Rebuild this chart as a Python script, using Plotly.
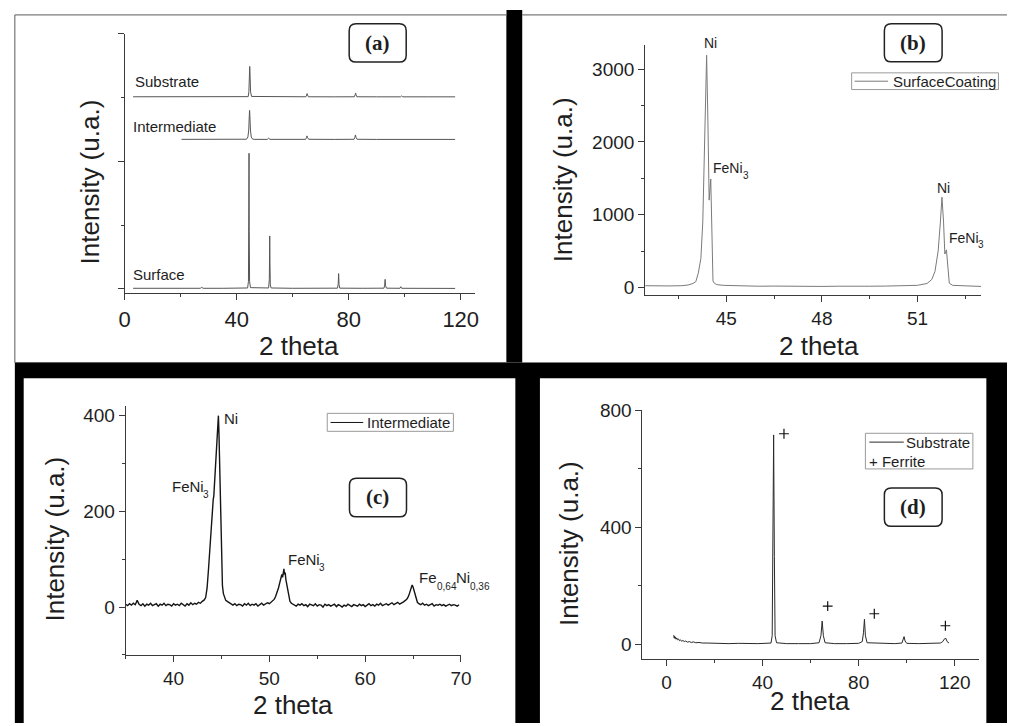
import plotly.graph_objects as go

W, H = 1018, 726


def px(x):
    return x / W


def py(y):
    return 1 - y / H


# ---------------- Panel (a): stacked patterns ----------------
a_surface_x = [3, 10, 20, 27.0, 27.5, 28.0, 35, 43.9, 44.2, 44.32, 44.4, 44.48, 44.6, 44.9, 50,
               51.4, 51.65, 51.72, 51.8, 51.88, 52.0, 52.3, 60, 70, 76.0, 76.25, 76.4, 76.55, 76.8,
               85, 92.6, 92.85, 93.0, 93.15, 93.5, 98.3, 98.6, 98.9, 105, 118]
a_surface_y = [10, 8, 10, 10, 25, 10, 10, 15, 120, 900, 2125, 900, 120, 20, 12,
               15, 150, 500, 830, 400, 60, 15, 10, 10, 12, 80, 240, 70, 12,
               10, 12, 60, 150, 50, 12, 10, 35, 10, 8, 8]

a_inter_x = [20.3, 30, 40, 43.5, 44.0, 44.3, 44.5, 44.6, 44.7, 44.9, 45.2, 45.6, 46.2, 50.9, 51.4,
             51.9, 58, 64.6, 64.9, 65.1, 65.3, 65.7, 75, 81.9, 82.2, 82.4, 82.6, 83.0, 90, 98.5,
             98.9, 99.3, 108, 116.0, 116.5, 117.0, 118]
a_inter_y = [3, 2, 3, 5, 40, 150, 380, 457, 380, 150, 40, 10, 3, 2, 20,
             3, 2, 3, 30, 57, 30, 4, 2, 4, 35, 72, 35, 4, 2, 2,
             10, 2, 2, 2, 8, 2, 2]

a_sub_x = [3, 15, 30, 44.1, 44.35, 44.5, 44.65, 44.8, 44.95, 45.3, 55, 64.7, 65.0, 65.15, 65.3,
           65.6, 75, 82.0, 82.3, 82.45, 82.6, 82.9, 90, 98.5, 98.9, 99.3, 108, 116.0, 116.5,
           117.0, 118]
a_sub_y = [3, 2, 3, 5, 80, 300, 478, 300, 80, 8, 2, 3, 30, 52, 30,
           3, 2, 3, 35, 62, 35, 3, 2, 2, 16, 2, 2, 2, 10, 2, 2]

a_offsets = [0, 2340, 3007]          # Surface, Intermediate, Substrate
a_names = ["Surface", "Intermediate", "Substrate"]

# ---------------- Panel (b): surface coating ----------------
b_x = [42.45, 42.8, 43.2, 43.6, 43.8, 43.95, 44.04, 44.12, 44.2, 44.26, 44.3, 44.34, 44.38,
       44.42, 44.46, 44.51, 44.55, 44.58, 44.62, 44.7, 44.9, 45.5, 46.0, 46.5, 47.0, 47.5,
       48.0, 48.5, 49.0, 49.5, 50.0, 50.5, 51.0, 51.3, 51.45, 51.55, 51.65, 51.72, 51.77,
       51.82, 51.86, 51.91, 51.95, 52.0, 52.1, 52.5, 53.0]
b_y = [25, 20, 22, 25, 35, 55, 80, 200, 400, 900, 1560, 2300, 3190,
       2300, 1200, 1490, 800, 90, 60, 40, 30, 22, 18, 20, 16, 20,
       15, 18, 14, 18, 20, 22, 30, 55, 110, 220, 500, 900, 1240,
       900, 460, 517, 350, 60, 30, 20, 15]

# ---------------- Panel (c): intermediate layer ----------------
c_x = [35.0, 35.2, 35.4, 35.6, 35.8, 36.0, 36.2, 36.4, 36.6, 36.8, 37.0, 37.2, 37.4, 37.6, 37.8,
       38.0, 38.2, 38.4, 38.6, 38.8, 39.0, 39.2, 39.4, 39.6, 39.8, 40.0, 40.2, 40.4, 40.6, 40.8,
       41.0, 41.2, 41.4, 41.6, 41.8, 42.0, 42.2, 42.4, 42.6, 42.8, 43.0, 43.2,
       43.35, 43.5, 43.65, 43.8, 43.9, 44.0, 44.08, 44.14, 44.2, 44.3, 44.4, 44.5, 44.6, 44.68,
       44.74, 44.8, 44.87, 44.93, 45.0, 45.1, 45.2, 45.3, 45.45, 45.6, 45.8, 46.0,
       46.2, 46.4, 46.6, 46.8, 47.0, 47.2, 47.4, 47.6, 47.8, 48.0, 48.2, 48.4, 48.6, 48.8, 49.0,
       49.2, 49.4, 49.6, 49.8, 50.0, 50.2,
       50.35, 50.5, 50.65, 50.8, 50.95, 51.1, 51.2, 51.3, 51.38, 51.45, 51.52, 51.58, 51.65,
       51.72, 51.8, 51.88, 51.95, 52.05, 52.15, 52.3, 52.45,
       52.6, 52.8, 53.0, 53.2, 53.4, 53.6, 53.8, 54.0, 54.2, 54.4, 54.6, 54.8, 55.0, 55.2, 55.4,
       55.6, 55.8, 56.0, 56.2, 56.4, 56.6, 56.8, 57.0, 57.2, 57.4, 57.6, 57.8, 58.0, 58.2, 58.4,
       58.6, 58.8, 59.0, 59.2, 59.4, 59.6, 59.8, 60.0, 60.2, 60.4, 60.6, 60.8, 61.0, 61.2, 61.4,
       61.6, 61.8, 62.0, 62.2, 62.4, 62.6, 62.8, 63.0, 63.2, 63.4, 63.6, 63.8, 64.0, 64.2,
       64.4, 64.55, 64.7, 64.8, 64.9, 65.0, 65.1, 65.2, 65.3, 65.45, 65.6,
       65.8, 66.0, 66.2, 66.4, 66.6, 66.8, 67.0, 67.2, 67.4, 67.6, 67.8, 68.0, 68.2, 68.4, 68.6,
       68.8, 69.0, 69.2, 69.4, 69.6, 69.8]
c_y = [6, 3, 7, 4, 8, 5, 14, 6, 3, 7, 2, 6, 4, 8, 3,
       5, 7, 2, 6, 4, 8, 3, 6, 5, 2, 7, 4, 6, 3, 8,
       5, 2, 7, 4, 9, 5, 8, 6, 10, 8, 12, 15,
       20, 40, 80, 125, 165, 200, 215, 225, 232, 268, 320, 348, 372, 400,
       362, 300, 232, 190, 120, 45, 28, 20, 14, 12, 9, 7,
       4, 7, 3, 6, 5, 2, 7, 4, 8, 3, 6, 4, 7, 2, 5,
       8, 4, 6, 9, 7, 10,
       12, 16, 22, 30, 40, 52, 58, 68, 62, 75, 80, 68, 72,
       58, 50, 36, 28, 18, 12, 8, 6,
       5, 2, 6, 4, 7, 3, 5, 1, 6, 4, 3, 7, 2, 5, 4,
       0, 6, 3, 5, 2, 4, 6, 1, 5, 3, 0, 4, 2, 6, 3,
       1, 5, 4, 2, 6, 3, 5, 1, 4, 7, 3, 5, 2, 6, 4,
       8, 3, 5, 7, 4, 6, 9, 5, 7, 10, 6, 8, 11, 14,
       18, 24, 32, 40, 46, 42, 34, 24, 16, 10, 7,
       5, 8, 4, 6, 3, 5, 7, 2, 5, 4, 6, 3, 5, 2, 4,
       6, 3, 5, 4, 2, 5]

# ---------------- Panel (d): substrate ----------------
d_x = [3.0, 3.2, 3.4, 3.6, 3.8, 4.0, 4.3, 4.6, 5.0, 5.4, 5.8, 6.3, 6.8, 7.4, 8.0, 8.7, 9.5,
       10.3, 11.2, 12.2, 13.5, 15, 17, 20, 23, 26, 30, 34, 38, 41, 43.5, 44.0, 44.3, 44.6,
       44.9, 45.2, 45.8, 50, 55, 60, 63.5, 64.3, 64.8, 65.3, 66, 70, 75, 80, 81.5, 82.0,
       82.4, 82.8, 83.5, 90, 95, 98.0, 98.5, 98.9, 99.3, 100, 105, 110, 114, 115, 115.8,
       116.3, 116.8, 117.6]
d_y = [32, 22, 28, 20, 25, 18, 22, 16, 19, 13, 16, 11, 14, 10, 12, 8, 10,
       7, 9, 6, 7, 5, 5, 4, 4, 3, 4, 3, 3, 4, 5, 30, 300, 715,
       300, 30, 6, 3, 3, 3, 6, 30, 80, 30, 6, 3, 3, 4, 10, 40,
       86, 30, 6, 3, 3, 5, 15, 27, 12, 4, 3, 3, 5, 10, 20,
       21, 10, 5]
d_ferrite_x = [48.9, 67.1, 86.5, 116.1]
d_ferrite_y = [719, 131, 105, 64]

FONT = "Liberation Sans, Arial, sans-serif"
SERIF = "Liberation Serif, Times New Roman, serif"
AXC = "#3a3a3a"
TXT = "#1e1e1e"

fig = go.Figure()

a_data = [(a_surface_x, a_surface_y), (a_inter_x, a_inter_y), (a_sub_x, a_sub_y)]
for (xs, ys), off, name in zip(a_data, a_offsets, a_names):
    fig.add_trace(go.Scatter(x=xs, y=[v + off for v in ys], mode="lines", name=name,
                             line=dict(color="#555555", width=1), xaxis="x", yaxis="y",
                             showlegend=False))

fig.add_trace(go.Scatter(x=b_x, y=b_y, mode="lines", name="SurfaceCoating",
                         line=dict(color="#7a7a7a", width=1), xaxis="x2", yaxis="y2",
                         showlegend=False))
fig.add_trace(go.Scatter(x=c_x, y=c_y, mode="lines", name="Intermediate",
                         line=dict(color="#151515", width=1.4), xaxis="x3", yaxis="y3",
                         showlegend=False))
fig.add_trace(go.Scatter(x=d_x, y=d_y, mode="lines", name="Substrate",
                         line=dict(color="#2a2a2a", width=1), xaxis="x4", yaxis="y4",
                         showlegend=False))
fig.add_trace(go.Scatter(x=d_ferrite_x, y=d_ferrite_y, mode="markers", name="Ferrite",
                         marker=dict(symbol="cross-thin", size=7,
                                     line=dict(color="#111111", width=1.2)),
                         xaxis="x4", yaxis="y4", showlegend=False))


def axis(dom, anchor, rng, dtick, tick0, minor_dtick, size, labels=True):
    return dict(domain=dom, anchor=anchor, range=rng, dtick=dtick, tick0=tick0,
                showline=True, linecolor=AXC, linewidth=1, mirror=False,
                ticks="outside", ticklen=6, tickwidth=1, tickcolor=AXC,
                showgrid=False, zeroline=False, showticklabels=labels,
                tickfont=dict(family=FONT, size=size, color=TXT),
                minor=dict(dtick=minor_dtick, tick0=tick0, ticks="outside", ticklen=3,
                           tickwidth=1, tickcolor=AXC, showgrid=False))


def xdom(x0, x1):
    return [px(x0), px(x1)]


def ydom(y0, y1):
    return [py(y1), py(y0)]


layout = dict(
    width=W, height=H, margin=dict(l=0, r=0, t=0, b=0),
    paper_bgcolor="white", plot_bgcolor="white", showlegend=False,
    xaxis=axis(xdom(120.7, 476.7), "y", [0, 125], 40, 0, 20, 22),
    yaxis=axis(ydom(24, 288.3), "x", [-66, 4000], 2000, 0, 1000, 22, labels=False),
    xaxis2=axis(xdom(650, 991.7), "y2", [42.45, 53], 3, 45, 1.5, 19),
    yaxis2=axis(ydom(36, 290), "x2", [-100, 3325], 1000, 0, 500, 19),
    xaxis3=axis(xdom(121.7, 462.7), "y3", [35, 70], 10, 40, 5, 19),
    yaxis3=axis(ydom(403.3, 656.7), "x3", [-100, 420], 200, 0, 100, 19),
    xaxis4=axis(xdom(647.3, 989.3), "y4", [-10, 130], 40, 0, 20, 19),
    yaxis4=axis(ydom(407.3, 661), "x4", [-50, 800], 400, 0, 200, 19),
)
fig.update_layout(**layout)


def rect(x0, y0, x1, y1, fill=None, line=None, lw=0, layer="below"):
    return dict(type="rect", xref="paper", yref="paper", x0=px(x0), x1=px(x1),
                y0=py(y1), y1=py(y0), fillcolor=fill or "rgba(0,0,0,0)",
                line=dict(color=line or "rgba(0,0,0,0)", width=lw), layer=layer)


def rrect(x0, y0, x1, y1, r=7, color="#222222", lw=1.5):
    pts = [("M", x0 + r, y0), ("L", x1 - r, y0), ("Q", x1, y0, x1, y0 + r),
           ("L", x1, y1 - r), ("Q", x1, y1, x1 - r, y1), ("L", x0 + r, y1),
           ("Q", x0, y1, x0, y1 - r), ("L", x0, y0 + r), ("Q", x0, y0, x0 + r, y0)]
    path = ""
    for p in pts:
        cmd = p[0]
        coords = p[1:]
        s = []
        for i in range(0, len(coords), 2):
            s.append(f"{px(coords[i]):.5f},{py(coords[i + 1]):.5f}")
        path += cmd + " ".join(s) + " "
    path += "Z"
    return dict(type="path", xref="paper", yref="paper", path=path, fillcolor="white",
                line=dict(color=color, width=lw), layer="above")


def hline(x0, x1, y, color, lw=1, layer="above"):
    return dict(type="line", xref="paper", yref="paper", x0=px(x0), x1=px(x1), y0=py(y),
                y1=py(y), line=dict(color=color, width=lw), layer=layer)


shapes = [
    rect(509, 0, 525, 359, fill="black"),
    rect(9, 359, 1018, 726, fill="black"),
    rect(18, 375, 518, 726, fill="white"),
    rect(543, 375, 997, 726, fill="white"),
    rect(9, 5, 509, 359, line="#5a5a5a", lw=1),
    hline(525, 1018, 5, "#5a5a5a", 1, layer="below"),
    # panel label boxes
    rrect(349, 14, 407, 53),
    rrect(893.3, 14, 952, 52.7),
    rrect(349.3, 476.7, 407.3, 516),
    rrect(893.3, 486.7, 952, 525.7),
    # legend boxes
    rect(860, 64, 1009.3, 81, fill="white", line="#9a9a9a", lw=1, layer="above"),
    hline(863, 897, 72.5, "#7a7a7a", 1),
    rect(326.7, 410.7, 455, 429, fill="white", line="#9a9a9a", lw=1, layer="above"),
    hline(330, 363.3, 420, "#151515", 1),
    rect(874, 431, 983.3, 467.3, fill="white", line="#9a9a9a", lw=1, layer="above"),
    hline(878, 913, 440, "#2a2a2a", 1),
]
fig.update_layout(shapes=shapes)


def ann(text, x, y, size=15, xanchor="left", yanchor="middle", family=FONT, angle=0,
        color=TXT):
    return dict(text=text, x=px(x), y=py(y), xref="paper", yref="paper", showarrow=False,
                xanchor=xanchor, yanchor=yanchor, textangle=angle,
                font=dict(family=family, size=size, color=color), borderpad=0,
                borderwidth=0)


def chem(parts, x, y, size, sub_size=10, sub_drop=7.5):
    """Chemical label built from (text, is_subscript) pieces, Arial-metric widths."""
    widths = {"F": 0.611, "e": 0.556, "N": 0.722, "i": 0.222, "0": 0.556, "3": 0.556,
              "4": 0.556, "6": 0.556, ",": 0.278}
    out = []
    cx = x
    for txt, is_sub in parts:
        fs = sub_size if is_sub else size
        out.append(ann(txt, cx, y + (sub_drop if is_sub else 0), fs))
        cx += sum(widths.get(ch, 0.556) for ch in txt) * fs
    return out


annotations = [
    # panel a
    ann("Substrate", 131.5, 72.7),
    ann("Intermediate", 129.5, 119),
    ann("Surface", 129, 269.3),
    ann("<b>(a)</b>", 378, 33.5, 21, "center", family=SERIF),
    ann("Intensity (u.a.)", 85, 175, 26, "center", angle=-90),
    ann("2 theta", 298, 342, 26, "center"),
    # panel b
    ann("Ni", 716.7, 33.3, 14, "center"),
    ann("Ni", 953.3, 181.7, 14, "center"),
    ann("SurfaceCoating", 902, 72.5, 15),
    ann("<b>(b)</b>", 922.7, 33.3, 21, "center", family=SERIF),
    ann("Intensity (u.a.)", 566.7, 173, 26, "center", angle=-90),
    ann("2 theta", 826.7, 341.7, 26, "center"),
    # panel c
    ann("Ni", 222, 416, 15),
    ann("Intermediate", 367.5, 420, 15),
    ann("<b>(c)</b>", 378.3, 496.3, 21, "center", family=SERIF),
    ann("Intensity (u.a.)", 50, 539, 26, "center", angle=-90),
    ann("2 theta", 291.7, 708, 26, "center"),
    # panel d
    ann("Substrate", 915.5, 440, 15),
    ann("+ Ferrite", 877.5, 459.3, 15),
    ann("<b>(d)</b>", 922.7, 506.2, 21, "center", family=SERIF),
    ann("Intensity (u.a.)", 573.3, 543, 26, "center", angle=-90),
    ann("2 theta", 817.7, 703.3, 26, "center"),
]
annotations += chem([("FeNi", False), ("3", True)], 719.5, 160.7, 14, 10, 7.5)
annotations += chem([("FeNi", False), ("3", True)], 959.0, 231.7, 14, 10, 7.5)
annotations += chem([("FeNi", False), ("3", True)], 169.0, 485.0, 15, 10, 8)
annotations += chem([("FeNi", False), ("3", True)], 287.0, 559.3, 15, 10, 8)
annotations += chem([("Fe", False), ("0,64", True), ("Ni", False), ("0,36", True)],
                    420.5, 578.3, 15, 10, 8.5)
fig.update_layout(annotations=annotations)

fig.write_html("out.html")
